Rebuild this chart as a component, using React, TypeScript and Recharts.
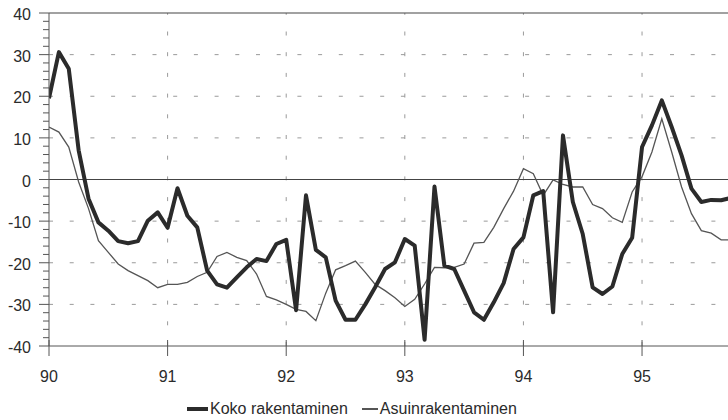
import React from "react";
import { LineChart, Line, XAxis, YAxis, ReferenceLine } from "recharts";

// monthly index values, Jan 1990 onward
const START_YEAR = 90;
const YEARS = [90, 91, 92, 93, 94, 95];
const Y_TICKS = [
  -40, -38, -36, -34, -32, -30, -28, -26, -24, -22, -20, -18, -16, -14, -12,
  -10, -8, -6, -4, -2, 0, 2, 4, 6, 8, 10, 12, 14, 16, 18, 20, 22, 24, 26, 28,
  30, 32, 34, 36, 38, 40,
];
const GRID_Y = [-30, -20, -10, 10, 20, 30];

const koko = [
  19.5, 30.6, 26.6, 7, -4.6, -10.3, -12.3, -14.8, -15.3, -14.8, -9.9, -7.9,
  -11.6, -2.1, -8.7, -11.5, -21.9, -25.2, -26, -23.5, -21.1, -19.1, -19.6,
  -15.5, -14.5, -31.4, -3.8, -16.9, -18.7, -29.1, -33.7, -33.7, -30, -25.9,
  -21.5, -19.9, -14.3, -15.9, -38.5, -1.7, -20.7, -21.5, -26.7, -31.9, -33.7,
  -29.5, -24.9, -16.7, -13.9, -3.8, -2.8, -31.9, 10.6, -5.4, -13.1, -25.9,
  -27.5, -25.7, -17.9, -14, 7.8, 13, 19, 12.6, 5.8, -2.2, -5.4, -4.9, -5, -4.4,
];

const asuin = [
  12.6, 11.4, 7.8, -0.6, -7, -14.7, -17.5, -20.3, -21.9, -23.1, -24.3, -26,
  -25.2, -25.2, -24.7, -23.3, -22.3, -18.5, -17.5, -18.7, -19.5, -22.7, -28.1,
  -28.9, -30, -31.2, -31.7, -33.9, -27.3, -21.7, -20.7, -19.6, -22.3, -25.2,
  -26.7, -28.4, -30.5, -28.8, -25.1, -21.1, -21.2, -21.1, -20.3, -15.3, -15.1,
  -11.5, -7, -2.8, 2.6, 1.4, -3.8, -0.1, -1.2, -1.8, -1.8, -6, -7, -9.2, -10.3,
  -3, 0.7, 6.6, 14.6, 6.6, -1.8, -8.2, -12.3, -12.9, -14.5, -14.5,
];

const data = koko.map((v, i) => ({
  t: START_YEAR + i / 12,
  koko: v,
  asuin: asuin[i],
}));

const FONT = "'Liberation Sans', Arial, Helvetica, sans-serif";
const INK = "#2b2b2b";

const YTick = ({ x, y, payload }: any) => {
  const v = payload.value;
  const major = v % 10 === 0;
  return (
    <g>
      <line x1={x - (major ? 10 : 6)} x2={x} y1={y} y2={y} stroke="#555" strokeWidth={1} />
      {major && (
        <text x={x - 18} y={y} dy={7} textAnchor="end" fontSize={16} fill={INK} fontFamily={FONT}>
          {v}
        </text>
      )}
    </g>
  );
};

const XTick = ({ x, y, payload }: any) => (
  <g>
    <line x1={x} x2={x} y1={y - 6} y2={y + 10} stroke="#555" strokeWidth={1} />
    <text x={x} y={y + 36} textAnchor="middle" fontSize={16} fill={INK} fontFamily={FONT}>
      {payload.value}
    </text>
  </g>
);

export default function App() {
  return (
    <div
      style={{
        position: "absolute",
        left: 0,
        top: 0,
        width: 728,
        height: 420,
        overflow: "hidden",
        background: "#fff",
      }}
    >
      <LineChart
        width={760}
        height={420}
        data={data}
        margin={{ top: 13, right: 29, left: 0, bottom: 34 }}
      >
        <XAxis
          dataKey="t"
          type="number"
          domain={[90, 95.75]}
          ticks={YEARS}
          tickLine={false}
          tickSize={0}
          tickMargin={0}
          tick={<XTick />}
          stroke="#555"
          height={40}
          allowDataOverflow
        />
        <YAxis
          type="number"
          domain={[-40, 40]}
          ticks={Y_TICKS}
          interval={0}
          tickLine={false}
          tickSize={0}
          tickMargin={0}
          tick={<YTick />}
          stroke="#555"
          width={49}
        />
        {GRID_Y.map((v) => (
          <ReferenceLine key={`gy${v}`} y={v} stroke="#9a9a9a" strokeDasharray="4 16.7" />
        ))}
        {YEARS.slice(1).map((v) => (
          <ReferenceLine key={`gx${v}`} x={v} stroke="#9a9a9a" strokeDasharray="4 16.7" />
        ))}
        <ReferenceLine y={0} stroke="#444" strokeWidth={1.2} />
        <ReferenceLine y={40} stroke="#444" strokeWidth={1.2} />
        <Line
          type="linear"
          dataKey="asuin"
          stroke="#555"
          strokeWidth={1.3}
          dot={false}
          isAnimationActive={false}
        />
        <Line
          type="linear"
          dataKey="koko"
          stroke={INK}
          strokeWidth={4}
          strokeLinejoin="round"
          dot={false}
          isAnimationActive={false}
        />
      </LineChart>
      <div
        style={{
          position: "absolute",
          left: 187,
          top: 400,
          display: "flex",
          alignItems: "center",
          fontFamily: FONT,
          fontSize: 16,
          color: INK,
          whiteSpace: "nowrap",
        }}
      >
        <span style={{ display: "inline-block", width: 21, height: 4, background: INK }} />
        <span style={{ marginLeft: 2 }}>Koko rakentaminen</span>
        <span
          style={{ display: "inline-block", width: 16, height: 1.3, background: "#555", marginLeft: 14 }}
        />
        <span style={{ marginLeft: 2 }}>Asuinrakentaminen</span>
      </div>
    </div>
  );
}
